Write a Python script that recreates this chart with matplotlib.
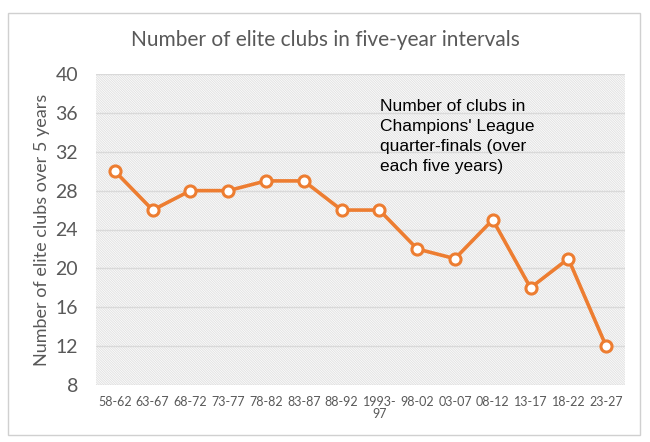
import matplotlib
matplotlib.use("Agg")
import matplotlib.pyplot as plt
from matplotlib.patches import Rectangle

categories = ["58-62", "63-67", "68-72", "73-77", "78-82", "83-87", "88-92",
              "1993-\n97", "98-02", "03-07", "08-12", "13-17", "18-22", "23-27"]
values = [30, 26, 28, 28, 29, 29, 26, 26, 22, 21, 25, 18, 21, 12]
yticks = [8, 12, 16, 20, 24, 28, 32, 36, 40]

title = "Number of elite clubs in five-year intervals"
ylabel = "Number of elite clubs over 5 years"
note = "Number of clubs in\nChampions' League\nquarter-finals (over\neach five years)"

plt.rcParams['hatch.color'] = '#e2e2e2'
plt.rcParams['hatch.linewidth'] = 0.7

fig = plt.figure(figsize=(6.5, 4.42), dpi=100)
fig.patches.append(Rectangle((8/650, 1-435/442), 632/650, 422/442, transform=fig.transFigure,
                             fill=False, edgecolor='#d0d0d0', linewidth=1))
ax = fig.add_axes([96/650, 1-385/442, 529/650, 311/442])
ax.set_facecolor('white')
ax.add_patch(Rectangle((0, 0), 1, 1, transform=ax.transAxes, facecolor='white',
                       hatch='\\' * 14, edgecolor='#e2e2e2', linewidth=0, zorder=0))

x = list(range(len(categories)))
ax.plot(x, values, color='#ED7D31', linewidth=2.6, marker='o', markersize=8,
        markerfacecolor='white', markeredgecolor='#ED7D31', markeredgewidth=2.2, zorder=3)

ax.set_xlim(-0.5, len(categories) - 0.5)
ax.set_ylim(8, 40)
ax.set_yticks(yticks)
ax.set_xticks(x)
ax.set_xticklabels(categories, fontsize=9, color='#595959', family='Lato', linespacing=1.0)
ax.set_yticklabels([str(t) for t in yticks], fontsize=14, color='#595959', family='Lato')
ax.grid(axis='y', color='#d9d9d9', linewidth=1)
ax.set_axisbelow(True)
for s in ax.spines.values():
    s.set_visible(False)
ax.tick_params(length=0, pad=8)
ax.tick_params(axis='y', pad=13)
ax.set_ylabel(ylabel, fontsize=13, color='#595959', family='Lato', labelpad=4)

fig.text(325/650, 1-40/442, title, ha='center', va='center', fontsize=15,
         color='#595959', family='Lato')
fig.text(380/650, 1-99/442, note, fontsize=12.5, family='Liberation Sans',
         color='black', va='top', ha='left', linespacing=1.42)

fig.savefig("out.png", dpi=100)
